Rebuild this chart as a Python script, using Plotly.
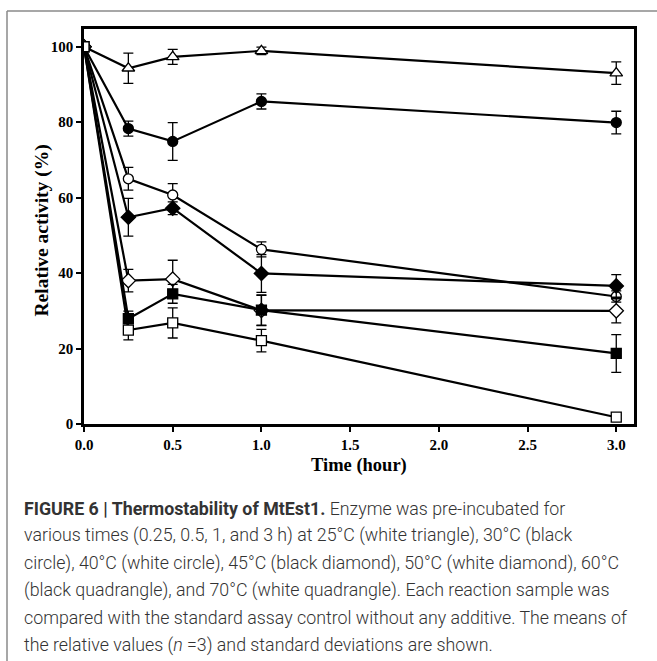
import plotly.graph_objects as go

time_h = [0, 0.25, 0.5, 1.0, 3.0]

t25 = [100, 94.3, 97.3, 98.9, 93.0]
t25_err = [0, 4.0, 2.0, 1.0, 3.0]
t30 = [100, 78.3, 74.9, 85.5, 79.9]
t30_err = [0, 2.0, 5.0, 2.0, 3.0]
t40 = [100, 65.0, 60.7, 46.3, 33.8]
t40_err = [0, 3.0, 3.0, 2.0, 1.5]
t45 = [100, 54.8, 57.2, 39.9, 36.6]
t45_err = [0, 5.0, 1.7, 5.0, 3.0]
t50 = [100, 38.0, 38.4, 30.1, 30.0]
t50_err = [0, 3.0, 5.0, 4.0, 3.2]
t60 = [100, 27.9, 34.5, 30.2, 18.7]
t60_err = [0, 2.0, 2.5, 4.0, 5.0]
t70 = [100, 24.9, 26.8, 22.1, 1.8]
t70_err = [0, 2.6, 4.0, 3.0, 0.5]

series = [
    ("25°C", t25, t25_err, "triangle-up", "white"),
    ("30°C", t30, t30_err, "circle", "black"),
    ("40°C", t40, t40_err, "circle", "white"),
    ("45°C", t45, t45_err, "diamond", "black"),
    ("50°C", t50, t50_err, "diamond", "white"),
    ("60°C", t60, t60_err, "square", "black"),
    ("70°C", t70, t70_err, "square", "white"),
]

x_ticks = [0, 0.5, 1.0, 1.5, 2.0, 2.5, 3.0]
x_tick_labels = ["0.0", "0.5", "1.0", "1.5", "2.0", "2.5", "3.0"]
y_ticks = [0, 20, 40, 60, 80, 100]
y_tick_labels = ["0", "20", "40", "60", "80", "100"]

caption_lines = [
    "<b>FIGURE 6 | Thermostability of MtEst1.</b> Enzyme was pre-incubated for",
    "various times (0.25, 0.5, 1, and 3 h) at 25°C (white triangle), 30°C (black",
    "circle), 40°C (white circle), 45°C (black diamond), 50°C (white diamond), 60°C",
    "(black quadrangle), and 70°C (white quadrangle). Each reaction sample was",
    "compared with the standard assay control without any additive. The means of",
    "the relative values (<i>n</i> =3) and standard deviations are shown.",
]

fig = go.Figure()
for name, vals, errs, sym, fill in series:
    msize = 11 if sym in ("diamond", "triangle-up") else 10
    fig.add_trace(go.Scatter(
        x=time_h, y=vals, name=name, mode="lines+markers",
        line=dict(color="black", width=2.2),
        marker=dict(symbol=sym, size=msize, color=fill,
                    line=dict(color="black", width=1.3)),
        error_y=dict(type="data", array=errs, visible=True,
                     color="black", thickness=1.3, width=5),
        showlegend=False,
    ))

serif = "Liberation Serif"
fig.update_layout(
    width=657, height=661,
    margin=dict(l=84, r=23, t=29, b=237),
    paper_bgcolor="white", plot_bgcolor="white",
    xaxis=dict(range=[0, 3.1], tickvals=x_ticks, ticktext=x_tick_labels,
               ticks="outside", ticklen=5, tickwidth=1.5, tickcolor="black",
               showline=True, mirror=True, linewidth=2.5, linecolor="black",
               showgrid=False, zeroline=False,
               tickfont=dict(family=serif, size=15, color="black", weight="bold")),
    yaxis=dict(range=[0, 104.7], tickvals=y_ticks, ticktext=y_tick_labels,
               ticks="outside", ticklen=5, tickwidth=1.5, tickcolor="black",
               showline=True, mirror=True, linewidth=2.5, linecolor="black",
               showgrid=False, zeroline=False,
               tickfont=dict(family=serif, size=15, color="black", weight="bold")),
)

fig.add_annotation(text="<b>Time (hour)</b>", xref="paper", yref="paper",
                   x=0.5, y=0, yshift=-41, xanchor="center", yanchor="middle",
                   showarrow=False,
                   font=dict(family=serif, size=18.5, color="black"))
fig.add_annotation(text="<b>Relative activity (%)</b>", xref="paper", yref="paper",
                   x=0, xshift=-43, y=0.5, yshift=-4, xanchor="center", yanchor="middle",
                   textangle=-90, showarrow=False,
                   font=dict(family=serif, size=19.5, color="black"))

cap_top = 508
cap_step = 27.4
for i, line in enumerate(caption_lines):
    ypix = cap_top + i * cap_step
    fig.add_annotation(text=line, xref="paper", yref="paper",
                       x=0, xshift=-84 + 22, y=1, yshift=29 - ypix,
                       xanchor="left", yanchor="middle", showarrow=False,
                       font=dict(family="Roboto", size=17.8, color="#333333", weight=300))

# gray outer frame (top and left edges)
fig.add_shape(type="line", xref="paper", yref="paper",
              x0=(7 - 84) / 550, x1=(700 - 84) / 550,
              y0=1 + (29 - 11) / 395, y1=1 + (29 - 11) / 395,
              line=dict(color="#8a8a8a", width=1.5))
fig.add_shape(type="line", xref="paper", yref="paper",
              x0=(7 - 84) / 550, x1=(7 - 84) / 550,
              y0=1 + (29 - 11) / 395, y1=1 - (700 - 29) / 395,
              line=dict(color="#8a8a8a", width=1.5))

fig.write_html("out.html")
